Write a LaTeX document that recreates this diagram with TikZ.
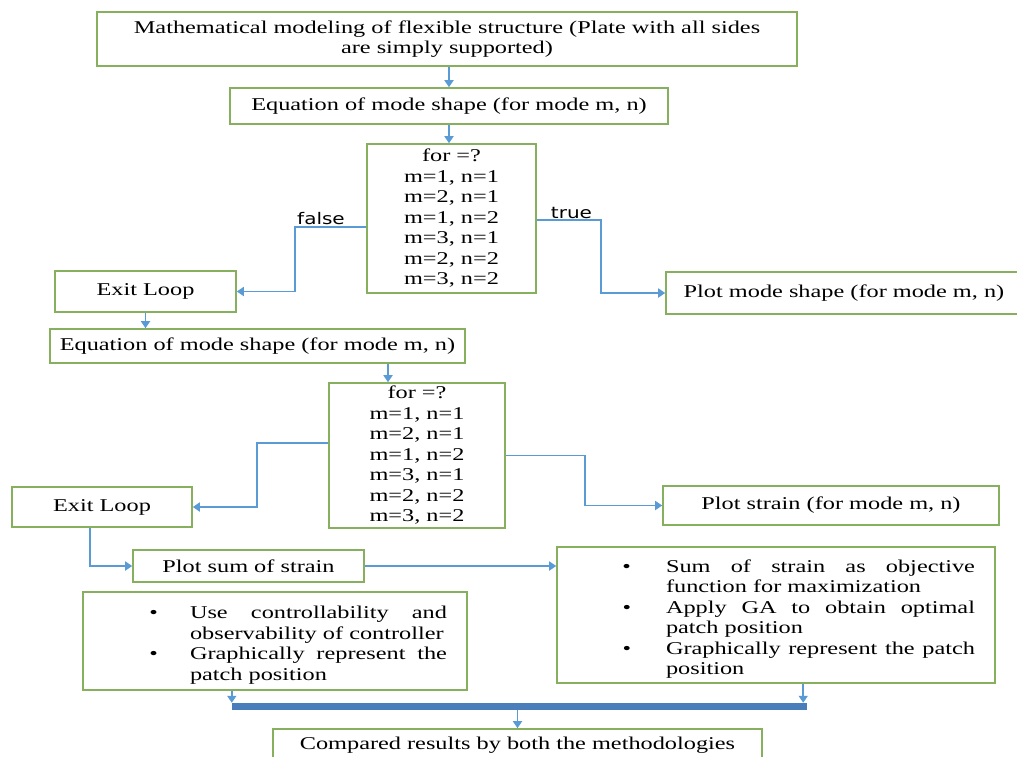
\documentclass[tikz,border=0pt]{standalone}
\usepackage{fontspec}
\setmainfont{Liberation Serif}[FakeStretch=1.35]
\newfontfamily\lblfont{DejaVu Sans}[FakeStretch=1.25]
\usetikzlibrary{arrows.meta}
\definecolor{boxgreen}{HTML}{86B05E}
\definecolor{arrblue}{HTML}{5B9BD5}
\definecolor{barblue}{HTML}{4A7EBB}
\newcommand{\mylist}[4]{%
  \begin{list}{\textbullet}{\setlength{\leftmargin}{#1}\setlength{\rightmargin}{#2}%
    \setlength{\labelwidth}{10pt}\setlength{\labelsep}{#3}%
    \setlength{\itemsep}{0pt}\setlength{\parsep}{0pt}\setlength{\topsep}{0pt}\setlength{\partopsep}{0pt}}%
  #4\end{list}}
\begin{document}
\begin{tikzpicture}[x=1pt,y=-1pt,
  box/.style={draw=boxgreen, line width=1.6pt, fill=white, inner sep=0pt, align=center,
    font=\fontsize{18}{20.5}\selectfont},
  lbox/.style={box, align=justify},
  conn/.style={draw=arrblue, line width=1.8pt, -{Triangle[width=9pt,length=7pt]}},
  lbl/.style={font=\lblfont\fontsize{16}{18}\selectfont, inner sep=0pt, anchor=base}]
\useasboundingbox (0,0) rectangle (1017,756);
\clip (0,0) rectangle (1017,756);

\node[box, minimum width=700pt, minimum height=54pt] (model) at (447,39)
  {Mathematical modeling of flexible structure (Plate with all sides\\are simply supported)};
\node[box, minimum width=438pt, minimum height=36pt] (eqa) at (449,106)
  {Equation of mode shape (for mode m, n)};
\node[box, minimum width=169pt, minimum height=149pt] (loopa) at (451.5,218.5)
  {for =?\\m=1, n=1\\m=2, n=1\\m=1, n=2\\m=3, n=1\\m=2, n=2\\m=3, n=2};
\node[box, minimum width=181pt, minimum height=41pt] (exita) at (145.5,291.5) {Exit Loop};
\node[box, minimum width=356pt, minimum height=42pt] (pms) at (844,293)
  {Plot mode shape (for mode m, n)};
\node[box, minimum width=415pt, minimum height=34pt] (eqb) at (257.5,346)
  {Equation of mode shape (for mode m, n)};
\node[box, minimum width=176pt, minimum height=145pt] (loopb) at (417,455.5)
  {for =?\\m=1, n=1\\m=2, n=1\\m=1, n=2\\m=3, n=1\\m=2, n=2\\m=3, n=2};
\node[box, minimum width=180pt, minimum height=40pt] (exitb) at (102,507) {Exit Loop};
\node[box, minimum width=336pt, minimum height=39pt] (pst) at (831,505.5)
  {Plot strain (for mode m, n)};
\node[box, minimum width=231pt, minimum height=32pt] (sum) at (248.5,566)
  {Plot sum of strain};
\node[lbox, text width=438pt, minimum height=136pt] (rbox) at (776,615)
  {\mylist{109pt}{20pt}{35pt}{%
    \item Sum of strain as objective\linebreak function for maximization
    \item Apply GA to obtain optimal\linebreak patch position
    \item Graphically represent the patch\linebreak position}};
\node[lbox, text width=384pt, minimum height=98pt] (lboxn) at (275,641)
  {\mylist{107pt}{20pt}{32pt}{%
    \item Use controllability and\linebreak observability of controller
    \item Graphically represent the\linebreak patch position}};
\node[fill=barblue, minimum width=575pt, minimum height=7pt, inner sep=0pt] (bar) at (519.5,706.5) {};
\node[box, minimum width=489pt, minimum height=32pt] (final) at (517.5,745)
  {Compared results by both the methodologies};

\draw[conn] (model.south -| eqa.north) -- (eqa.north);
\draw[conn] (eqa.south) -- (eqa.south |- loopa.north);
\draw[conn] ([yshift=-8.5pt]loopa.west) -- ++(-71,0) |- (exita.east);
\draw[conn] ([yshift=-1.5pt]loopa.east) -- ++(64,0) |- (pms.west);
\node[lbl] (lf) at (321,224) {false};
\node[lbl] (lt) at (571.5,218) {true};
\draw[conn] (exita.south) -- (exita.south |- eqb.north);
\draw[conn] ([xshift=-29pt]loopb.north |- eqb.south) -- ([xshift=-29pt]loopb.north);
\draw[conn] ([yshift=12.5pt]loopb.west) -- ++(-71,0) |- (exitb.east);
\draw[conn] (loopb.east) -- ++(79,0) |- (pst.west);
\draw[conn] ([xshift=-12pt]exitb.south) |- (sum.west);
\draw[conn] (sum.east) -- (sum.east -| rbox.west);
\draw[conn] (bar.north west |- lboxn.south) -- (bar.north west);
\draw[conn] ([xshift=-4pt]bar.north east |- rbox.south) -- ([xshift=-4pt]bar.north east);
\draw[conn] (bar.south -| final.north) -- (final.north);
\end{tikzpicture}
\end{document}
